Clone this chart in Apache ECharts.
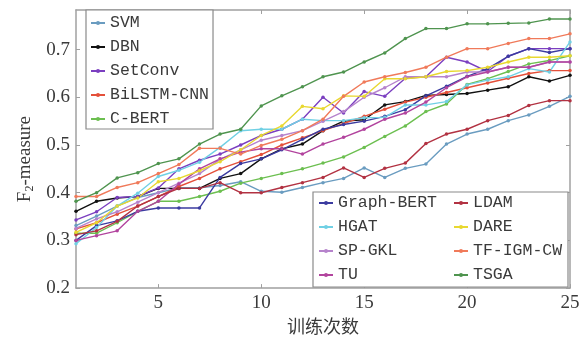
<!DOCTYPE html>
<html><head><meta charset="utf-8">
<script src="https://cdn.jsdelivr.net/npm/echarts@6/dist/echarts.min.js"></script>
<style>html,body{margin:0;padding:0;background:#fff}#c{width:588px;height:340px}</style>
</head><body><div id="c"></div>
<script>
const xValues = [1,2,3,4,5,6,7,8,9,10,11,12,13,14,15,16,17,18,19,20,21,22,23,24,25];
const xTicks = [5,10,15,20,25];
const yTicks = [0.2,0.3,0.4,0.5,0.6,0.7];

const SVM        = [0.331,0.351,0.372,0.390,0.400,0.410,0.410,0.415,0.423,0.403,0.401,0.411,0.421,0.430,0.452,0.432,0.451,0.460,0.502,0.523,0.533,0.551,0.563,0.581,0.602];
const DBN        = [0.361,0.382,0.389,0.392,0.409,0.409,0.409,0.430,0.440,0.471,0.492,0.502,0.530,0.550,0.553,0.584,0.591,0.604,0.606,0.608,0.615,0.622,0.643,0.634,0.646];
const SetConv    = [0.343,0.360,0.390,0.392,0.410,0.450,0.468,0.481,0.500,0.520,0.533,0.554,0.600,0.567,0.612,0.602,0.640,0.643,0.684,0.674,0.654,0.686,0.702,0.702,0.702];
const BiLSTM_CNN = [0.324,0.337,0.355,0.372,0.392,0.413,0.430,0.450,0.465,0.480,0.500,0.515,0.530,0.545,0.560,0.575,0.590,0.600,0.610,0.620,0.630,0.640,0.650,0.656,0.656];
const C_BERT     = [0.315,0.315,0.337,0.361,0.382,0.382,0.392,0.403,0.420,0.430,0.440,0.450,0.462,0.475,0.495,0.518,0.540,0.570,0.586,0.627,0.639,0.654,0.670,0.677,0.687];
const Graph_BERT = [0.300,0.331,0.341,0.361,0.368,0.368,0.368,0.432,0.461,0.471,0.490,0.512,0.533,0.543,0.550,0.560,0.574,0.603,0.623,0.644,0.660,0.686,0.702,0.694,0.702];
const HGAT       = [0.293,0.327,0.372,0.399,0.434,0.447,0.464,0.495,0.530,0.533,0.533,0.554,0.551,0.551,0.557,0.558,0.584,0.584,0.591,0.626,0.636,0.643,0.660,0.653,0.716];
const SP_GKL     = [0.325,0.345,0.360,0.380,0.400,0.420,0.440,0.470,0.490,0.510,0.520,0.530,0.550,0.570,0.600,0.620,0.643,0.643,0.643,0.653,0.653,0.663,0.663,0.674,0.674];
const TU         = [0.300,0.310,0.320,0.361,0.382,0.418,0.450,0.471,0.485,0.492,0.492,0.481,0.502,0.516,0.533,0.554,0.567,0.590,0.620,0.643,0.653,0.663,0.663,0.674,0.674];
const LDAM       = [0.312,0.320,0.340,0.372,0.392,0.409,0.409,0.421,0.400,0.400,0.411,0.421,0.432,0.452,0.432,0.451,0.462,0.503,0.523,0.533,0.551,0.562,0.583,0.593,0.593];
const DARE       = [0.317,0.337,0.372,0.389,0.423,0.430,0.446,0.465,0.490,0.520,0.540,0.581,0.576,0.603,0.602,0.639,0.639,0.643,0.654,0.656,0.663,0.674,0.684,0.684,0.687];
const TF_IGM_CW  = [0.392,0.392,0.411,0.421,0.440,0.459,0.493,0.493,0.481,0.499,0.512,0.530,0.554,0.602,0.632,0.643,0.652,0.663,0.684,0.702,0.702,0.713,0.723,0.723,0.733];
const TSGA       = [0.382,0.400,0.431,0.442,0.461,0.471,0.502,0.523,0.533,0.582,0.603,0.622,0.643,0.653,0.674,0.693,0.723,0.744,0.744,0.754,0.754,0.755,0.756,0.764,0.764];

const names = ['SVM','DBN','SetConv','BiLSTM-CNN','C-BERT','Graph-BERT','HGAT','SP-GKL','TU','LDAM','DARE','TF-IGM-CW','TSGA'];
const values = [SVM,DBN,SetConv,BiLSTM_CNN,C_BERT,Graph_BERT,HGAT,SP_GKL,TU,LDAM,DARE,TF_IGM_CW,TSGA];
const colors = ['#6a9cc0','#111111','#7b3fc0','#e4503a','#6cbf50','#3b3ba0','#70d0e4','#b683cc','#b2449e','#b23242','#e8d830','#f07a5a','#4f944f'];

const legend1 = ['SVM','DBN','SetConv','BiLSTM-CNN','C-BERT'];
const legend2a = ['Graph-BERT','HGAT','SP-GKL','TU'];
const legend2b = ['LDAM','DARE','TF-IGM-CW','TSGA'];

const serif = "'Liberation Serif', 'DejaVu Serif', serif";
const mono = "'Liberation Mono', 'DejaVu Sans Mono', monospace";
const axisColor = '#a0a0a0';
const textColor = '#3a3a3a';

const legendText = {fontFamily: mono, fontSize: 16.5, color: textColor, lineHeight: 20};
function legendBase(extra){
  return Object.assign({
    orient: 'vertical', itemWidth: 14, itemHeight: 5, itemGap: 4, itemTextGap: 5,
    textStyle: legendText, selectedMode: false
  }, extra);
}

const chart = echarts.init(document.getElementById('c'), null, {renderer: 'canvas'});
chart.setOption({
  animation: false,
  backgroundColor: '#fff',
  grid: {left: 76, right: 18, top: 10, bottom: 46.5, containLabel: false},
  xAxis: [{
    type: 'value', min: 1, max: 25,
    name: '训练次数', nameLocation: 'middle', nameGap: 27,
    nameTextStyle: {fontFamily: "'Noto Sans CJK SC', sans-serif", fontSize: 18, color: textColor},
    axisLine: {show: true, lineStyle: {color: axisColor, width: 1.5}},
    axisTick: {show: true, inside: true, length: 4, customValues: xTicks, lineStyle: {color: axisColor}},
    axisLabel: {customValues: xTicks, margin: 5, fontFamily: serif, fontSize: 19, color: textColor},
    splitLine: {show: false}
  }, {
    type: 'value', min: 1, max: 25, position: 'top',
    axisLine: {show: true, lineStyle: {color: axisColor, width: 1.5}},
    axisTick: {show: true, inside: true, length: 4, customValues: xTicks, lineStyle: {color: axisColor}},
    axisLabel: {show: false}, splitLine: {show: false}
  }],
  yAxis: [{
    type: 'value', min: 0.2, max: 0.783,
    name: '{a|F}{s|2}{a|-measure}', nameLocation: 'middle', nameGap: 38,
    nameTextStyle: {
      fontFamily: serif, fontSize: 19, color: textColor, padding: [0, 20, 0, 0],
      rich: {a: {fontFamily: serif, fontSize: 19, color: textColor},
             s: {fontFamily: serif, fontSize: 12, color: textColor, verticalAlign: 'bottom', padding: [8, 0, 0, 0]}}
    },
    axisLine: {show: true, lineStyle: {color: axisColor, width: 1.5}},
    axisTick: {show: true, inside: true, length: 4, customValues: yTicks, lineStyle: {color: axisColor}},
    axisLabel: {customValues: yTicks, margin: 6, fontFamily: serif, fontSize: 19, color: textColor,
                formatter: v => v.toFixed(1)},
    splitLine: {show: false}
  }, {
    type: 'value', min: 0.2, max: 0.783, position: 'right',
    axisLine: {show: true, lineStyle: {color: axisColor, width: 1.5}},
    axisTick: {show: true, inside: true, length: 4, customValues: yTicks, lineStyle: {color: axisColor}},
    axisLabel: {show: false}, splitLine: {show: false}
  }],
  legend: [
    legendBase({data: legend1, left: 86, top: 10, padding: [3, 4, 0, 4],
      backgroundColor: '#fff', borderColor: '#8a8a8a', borderWidth: 1.2}),
    legendBase({data: legend2a, left: 318, top: 193, padding: 0}),
    legendBase({data: legend2b, left: 453, top: 193, padding: 0})
  ],
  graphic: [{
    type: 'rect', z: 3,
    shape: {x: 313, y: 192, width: 255, height: 95},
    style: {fill: '#fff', stroke: '#8a8a8a', lineWidth: 1.2}
  }],
  series: names.map((n, k) => ({
    name: n, type: 'line', z: 2,
    data: xValues.map((x, i) => [x, values[k][i]]),
    symbol: 'circle', symbolSize: 3.5, showSymbol: true,
    lineStyle: {width: 1.4, color: colors[k]},
    itemStyle: {color: colors[k]}
  }))
});
</script>
</body></html>
